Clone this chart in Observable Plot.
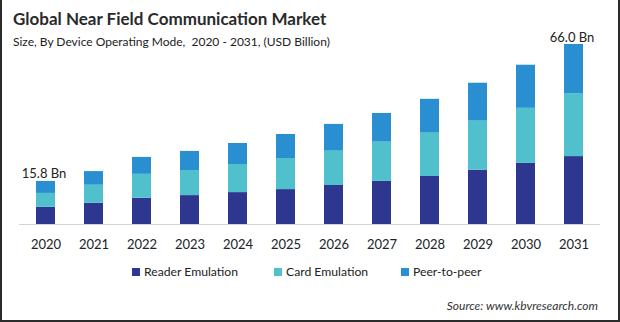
<!DOCTYPE html>
<html>
<head>
<meta charset="utf-8">
<script src="https://cdn.jsdelivr.net/npm/d3@7"></script>
<script src="https://cdn.jsdelivr.net/npm/@observablehq/plot@0.6"></script>
<style>
  html, body { margin: 0; padding: 0; background: #fff; }
  #wrap { position: relative; width: 620px; height: 322px; overflow: hidden; font-family: Lato, "Open Sans", sans-serif; color: #222; }
  .abs { position: absolute; white-space: nowrap; }
  #title { left: 13px; top: 9px; font-size: 17px; font-weight: 700; line-height: 20px; color: #2a2a2a; }
  #subtitle { left: 13px; top: 34px; font-size: 12px; line-height: 16px; color: #222; }
  #chart { position: absolute; left: 0; top: 0; }
  .legitem { position: absolute; top: 264px; font-size: 12.2px; line-height: 16px; color: #222; }
  .legitem span.sw { display: inline-block; width: 8px; height: 8px; margin-right: 4px; vertical-align: 0px; }
  #source { right: 22px; top: 299px; font-size: 12px; font-style: italic; line-height: 14px; color: #333; }
  .bd { position: absolute; background: #2b2b2b; }
</style>
</head>
<body>
<div id="wrap">
  <div id="chart"></div>
  <div class="abs" id="title">Global Near Field Communication Market</div>
  <div class="abs" id="subtitle">Size, By Device Operating Mode,&nbsp; 2020 - 2031, (USD Billion)</div>
  <div id="legend"></div>
  <div class="abs" id="source">Source: www.kbvresearch.com</div>
  <div class="bd" style="left:0;top:0;width:2px;height:322px"></div>
  <div class="bd" style="right:0;top:0;width:2px;height:322px"></div>
  <div class="bd" style="left:0;bottom:0;width:620px;height:2px"></div>
</div>
<script>
const years = ["2020","2021","2022","2023","2024","2025","2026","2027","2028","2029","2030","2031"];
const seriesNames = ["Reader Emulation", "Card Emulation", "Peer-to-peer"];
const readerEmulation = [6.3, 7.8, 9.6, 10.6, 11.7, 12.8, 14.3, 15.8, 17.6, 19.9, 22.4, 24.9];
const cardEmulation   = [5.1, 6.6, 8.8, 9.2, 10.3, 11.4, 12.6, 14.4, 15.9, 18.0, 20.2, 23.1];
const peerToPeer      = [4.4, 5.0, 6.2, 7.0, 7.7, 8.8, 9.8, 10.5, 12.4, 13.9, 15.8, 18.0];
const labelYears = ["2020", "2031"];
const labelValues = [15.8, 66.0];
const seriesColors = ["#2e3790", "#50c1cc", "#2a8fd0"];

const seriesValues = [readerEmulation, cardEmulation, peerToPeer];
const data = [];
seriesNames.forEach((s, si) => {
  years.forEach((y, i) => data.push({year: y, series: s, value: seriesValues[si][i]}));
});
const labels = labelYears.map((y, i) => ({year: y, total: labelValues[i]}));

const chart = Plot.plot({
  width: 620,
  height: 260,
  marginLeft: 19,
  marginRight: 20,
  marginTop: 44,
  marginBottom: 36,
  style: {fontFamily: "Lato, 'Open Sans', sans-serif", fontSize: "13px", color: "#222", background: "transparent"},
  x: {domain: years, paddingInner: 0.6, paddingOuter: 0.306, label: null},
  y: {domain: [0, 66], axis: null},
  color: {domain: seriesNames, range: seriesColors},
  marks: [
    Plot.barY(data, {x: "year", y: "value", fill: "series"}),
    Plot.ruleY([0], {stroke: "#d4d4d4", strokeWidth: 1}),
    Plot.axisX({tickSize: 0, tickPadding: 15, fontSize: 13, label: null, fill: "#222"}),
    Plot.text(labels, {x: "year", y: "total", text: d => d.total.toFixed(1) + " Bn", lineAnchor: "bottom", dy: -3, dx: -2, fontSize: 13, fill: "#222"})
  ]
});
document.getElementById("chart").appendChild(chart);

const legX = [132, 274, 401];
const leg = document.getElementById("legend");
seriesNames.forEach((s, i) => {
  const it = document.createElement("div");
  it.className = "legitem";
  it.style.left = legX[i] + "px";
  const sw = document.createElement("span");
  sw.className = "sw";
  sw.style.background = seriesColors[i];
  it.appendChild(sw);
  it.appendChild(document.createTextNode(s));
  leg.appendChild(it);
});
</script>
</body>
</html>
